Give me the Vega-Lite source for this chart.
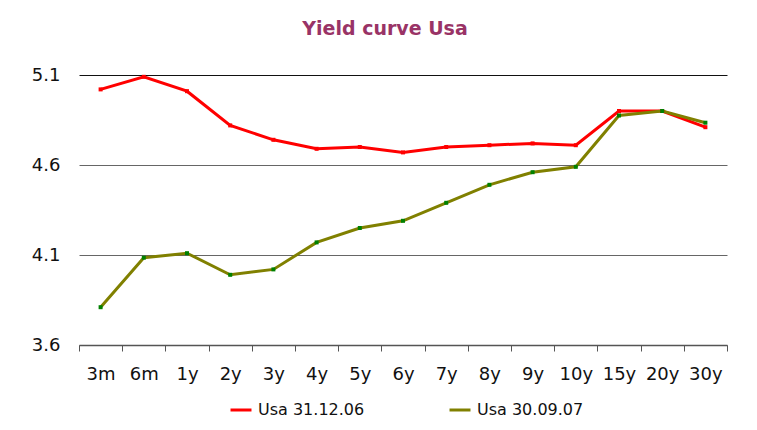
{
  "$schema": "https://vega.github.io/schema/vega-lite/v6.json",
  "autosize": {"type": "none"},
  "width": 648,
  "height": 270,
  "padding": {"left": 79, "top": 75, "right": 30, "bottom": 85},
  "background": "white",
  "title": {
    "text": "Yield curve Usa",
    "font": "DejaVu Sans",
    "fontSize": 19,
    "fontWeight": "bold",
    "color": "#993366",
    "anchor": "middle",
    "dx": -18,
    "offset": 27
  },
  "data": {
    "values": [
      {"tenor": "3m", "series": "Usa 31.12.06", "yield": 5.02},
      {"tenor": "6m", "series": "Usa 31.12.06", "yield": 5.09},
      {"tenor": "1y", "series": "Usa 31.12.06", "yield": 5.01},
      {"tenor": "2y", "series": "Usa 31.12.06", "yield": 4.82},
      {"tenor": "3y", "series": "Usa 31.12.06", "yield": 4.74},
      {"tenor": "4y", "series": "Usa 31.12.06", "yield": 4.69},
      {"tenor": "5y", "series": "Usa 31.12.06", "yield": 4.70},
      {"tenor": "6y", "series": "Usa 31.12.06", "yield": 4.67},
      {"tenor": "7y", "series": "Usa 31.12.06", "yield": 4.70},
      {"tenor": "8y", "series": "Usa 31.12.06", "yield": 4.71},
      {"tenor": "9y", "series": "Usa 31.12.06", "yield": 4.72},
      {"tenor": "10y", "series": "Usa 31.12.06", "yield": 4.71},
      {"tenor": "15y", "series": "Usa 31.12.06", "yield": 4.90},
      {"tenor": "20y", "series": "Usa 31.12.06", "yield": 4.90},
      {"tenor": "30y", "series": "Usa 31.12.06", "yield": 4.81},
      {"tenor": "3m", "series": "Usa 30.09.07", "yield": 3.81},
      {"tenor": "6m", "series": "Usa 30.09.07", "yield": 4.085},
      {"tenor": "1y", "series": "Usa 30.09.07", "yield": 4.11},
      {"tenor": "2y", "series": "Usa 30.09.07", "yield": 3.99},
      {"tenor": "3y", "series": "Usa 30.09.07", "yield": 4.02},
      {"tenor": "4y", "series": "Usa 30.09.07", "yield": 4.17},
      {"tenor": "5y", "series": "Usa 30.09.07", "yield": 4.25},
      {"tenor": "6y", "series": "Usa 30.09.07", "yield": 4.29},
      {"tenor": "7y", "series": "Usa 30.09.07", "yield": 4.39},
      {"tenor": "8y", "series": "Usa 30.09.07", "yield": 4.49},
      {"tenor": "9y", "series": "Usa 30.09.07", "yield": 4.56},
      {"tenor": "10y", "series": "Usa 30.09.07", "yield": 4.59},
      {"tenor": "15y", "series": "Usa 30.09.07", "yield": 4.875},
      {"tenor": "20y", "series": "Usa 30.09.07", "yield": 4.90},
      {"tenor": "30y", "series": "Usa 30.09.07", "yield": 4.835}
    ]
  },
  "encoding": {
    "x": {
      "field": "tenor",
      "type": "ordinal",
      "sort": ["3m","6m","1y","2y","3y","4y","5y","6y","7y","8y","9y","10y","15y","20y","30y"],
      "bandPosition": 0.5,
      "scale": {"type": "band", "paddingInner": 0, "paddingOuter": 0},
      "axis": {
        "title": null,
        "labelAngle": 0,
        "labelFont": "DejaVu Sans",
        "labelFontSize": 18,
        "labelColor": "#111",
        "labelPadding": 14,
        "tickBand": "extent",
        "ticks": true,
        "tickSize": 6,
        "tickColor": "#555",
        "domainColor": "#555",
        "domainWidth": 1.5,
        "grid": false
      }
    },
    "y": {
      "field": "yield",
      "type": "quantitative",
      "scale": {"domain": [3.6, 5.1], "nice": false, "zero": false},
      "axis": {
        "title": null,
        "values": [3.6, 4.1, 4.6, 5.1],
        "format": ".1f",
        "labelFont": "DejaVu Sans",
        "labelFontSize": 18,
        "labelColor": "#111",
        "labelPadding": 19,
        "ticks": false,
        "domain": false,
        "grid": true,
        "gridColor": {"condition": {"test": "datum.value > 5", "value": "#111"}, "value": "#666"},
        "gridWidth": 1
      }
    }
  },
  "layer": [
    {
      "mark": {"type": "line", "strokeWidth": 3},
      "encoding": {
        "color": {
          "field": "series",
          "type": "nominal",
          "scale": {"domain": ["Usa 31.12.06", "Usa 30.09.07"], "range": ["#ff0000", "#808000"]},
          "legend": {
            "title": null,
            "orient": "none",
            "legendX": 150,
            "legendY": 323,
            "direction": "horizontal",
            "symbolType": "stroke",
            "symbolStrokeWidth": 3,
            "symbolSize": 440,
            "labelFont": "DejaVu Sans",
            "labelFontSize": 16,
            "labelColor": "#111",
            "labelOffset": 5,
            "columnPadding": 78
          }
        }
      }
    },
    {
      "mark": {"type": "square", "size": 16, "opacity": 1, "strokeWidth": 0},
      "encoding": {
        "fill": {
          "field": "series",
          "type": "nominal",
          "scale": {"domain": ["Usa 31.12.06", "Usa 30.09.07"], "range": ["#ff0000", "#008000"]},
          "legend": null
        }
      }
    }
  ],
  "config": {
    "view": {"stroke": null},
    "font": "DejaVu Sans"
  }
}
